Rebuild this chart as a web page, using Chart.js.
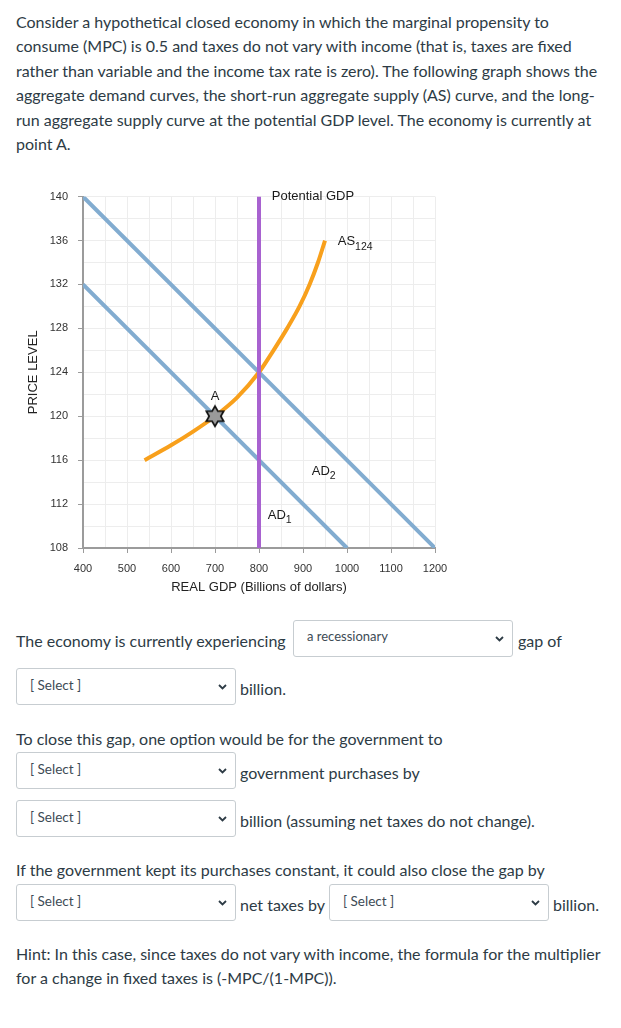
<!DOCTYPE html>
<html>
<head>
<meta charset="utf-8">
<script src="https://cdn.jsdelivr.net/npm/chart.js@4.4.1/dist/chart.umd.min.js"></script>
<style>
  body { margin: 0; width: 621px; height: 1028px; background: #fff; font-family: Lato, "Open Sans", sans-serif; color: #2d3b45; position: relative; overflow: hidden; }
  .t { position: absolute; font-size: 16px; line-height: 20px; white-space: nowrap; }
  .para { position: absolute; left: 16px; top: 10px; font-size: 16px; line-height: 24.4px; white-space: nowrap; }
  .sel { position: absolute; box-sizing: border-box; border: 1px solid #c7cdd1; border-radius: 3px; background: #fff; font-size: 13.5px; color: #3d4b55; }
  .sel span { position: absolute; left: 13px; top: 8px; }
  .sel svg { position: absolute; right: 8px; top: 50%; margin-top: -3px; }
  #wrap { position: absolute; left: 0; top: 180px; width: 470px; height: 420px; }
</style>
</head>
<body>
<div class="para">
Consider a hypothetical closed economy in which the marginal propensity to<br>
consume (MPC) is 0.5 and taxes do not vary with income (that is, taxes are fixed<br>
rather than variable and the income tax rate is zero). The following graph shows the<br>
aggregate demand curves, the short-run aggregate supply (AS) curve, and the long-<br>
run aggregate supply curve at the potential GDP level. The economy is currently at<br>
point A.
</div>

<div id="wrap"><canvas id="adas" width="470" height="420"></canvas></div>

<div class="t" style="left:16px;top:631px">The economy is currently experiencing</div>
<div class="sel" style="left:293px;top:620px;width:220px;height:37px;font-size:13px"><span style="top:7px">a recessionary</span><svg width="9" height="6"><polyline points="1,1 4.5,4.5 8,1" fill="none" stroke="#2d3b45" stroke-width="1.8"/></svg></div>
<div class="t" style="left:518px;top:631px">gap of</div>

<div class="sel" style="left:16px;top:668px;width:220px;height:37px"><span>[ Select ]</span><svg width="9" height="6"><polyline points="1,1 4.5,4.5 8,1" fill="none" stroke="#2d3b45" stroke-width="1.8"/></svg></div>
<div class="t" style="left:240px;top:679px">billion.</div>

<div class="t" style="left:16px;top:729px">To close this gap, one option would be for the government to</div>
<div class="sel" style="left:16px;top:752px;width:220px;height:37px"><span>[ Select ]</span><svg width="9" height="6"><polyline points="1,1 4.5,4.5 8,1" fill="none" stroke="#2d3b45" stroke-width="1.8"/></svg></div>
<div class="t" style="left:240px;top:763px">government purchases by</div>

<div class="sel" style="left:16px;top:800px;width:220px;height:37px"><span>[ Select ]</span><svg width="9" height="6"><polyline points="1,1 4.5,4.5 8,1" fill="none" stroke="#2d3b45" stroke-width="1.8"/></svg></div>
<div class="t" style="left:240px;top:811px">billion (assuming net taxes do not change).</div>

<div class="t" style="left:16px;top:860px">If the government kept its purchases constant, it could also close the gap by</div>
<div class="sel" style="left:16px;top:884px;width:220px;height:37px"><span>[ Select ]</span><svg width="9" height="6"><polyline points="1,1 4.5,4.5 8,1" fill="none" stroke="#2d3b45" stroke-width="1.8"/></svg></div>
<div class="t" style="left:240px;top:895px">net taxes by</div>
<div class="sel" style="left:329px;top:884px;width:220px;height:37px"><span>[ Select ]</span><svg width="9" height="6"><polyline points="1,1 4.5,4.5 8,1" fill="none" stroke="#2d3b45" stroke-width="1.8"/></svg></div>
<div class="t" style="left:553px;top:895px">billion.</div>

<div class="para" style="top:942px">
Hint: In this case, since taxes do not vary with income, the formula for the multiplier<br>
for a change in fixed taxes is (-MPC/(1-MPC)).
</div>

<script>
// axis ranges
const gdpMin = 400, gdpMax = 1200;
const priceMin = 108, priceMax = 140;

// aggregate demand curves
const ad1Gdp = [400, 1000];
const ad1Price = [132, 108];
const ad2Gdp = [400, 1200];
const ad2Price = [140, 108];

// long-run AS (potential GDP)
const lrasGdp = [800, 800];
const lrasPrice = [108, 140];

// short-run AS curve
const asGdp = [540, 600, 650, 700, 750, 800, 833, 864, 892, 915, 934, 950];
const asPrice = [116, 117.35, 118.6, 120, 121.7, 124, 126, 128, 130, 132, 134, 136];

// point A
const pointAGdp = [700];
const pointAPrice = [120];

const BLUE = 'rgb(130,172,208)';
const ORANGE = 'rgb(248,160,28)';
const PURPLE = 'rgb(168,98,208)';
const CHART_FONT = '"Liberation Sans", Arial, sans-serif';

function pts(xs, ys) {
  return xs.map((x, i) => ({ x, y: ys[i] }));
}

// six pointed star used as the marker for A
function makeStar(r) {
  const s = r * 2 + 4;
  const c = document.createElement('canvas');
  c.width = s; c.height = s;
  const g = c.getContext('2d');
  g.beginPath();
  for (let i = 0; i < 12; i++) {
    const ang = -Math.PI / 2 + i * Math.PI / 6;
    const rr = i % 2 === 0 ? r : r * 0.58;
    g.lineTo(s / 2 + rr * Math.cos(ang), s / 2 + rr * Math.sin(ang));
  }
  g.closePath();
  g.fillStyle = '#9a9a9a';
  g.fill();
  g.lineWidth = 1.7;
  g.strokeStyle = '#111';
  g.stroke();
  return c;
}

// text labels placed in data coordinates
const curveLabels = {
  id: 'curveLabels',
  afterDatasetsDraw(chart) {
    const { ctx, scales: { x, y } } = chart;
    ctx.save();
    ctx.fillStyle = '#1a1a1a';
    ctx.textBaseline = 'middle';
    function label(main, sub, gx, gy, align) {
      const px = x.getPixelForValue(gx), py = y.getPixelForValue(gy);
      ctx.font = '13px ' + CHART_FONT;
      ctx.textAlign = align || 'left';
      ctx.fillText(main, px, py);
      if (sub) {
        const w = ctx.measureText(main).width;
        ctx.font = '10.5px ' + CHART_FONT;
        ctx.textAlign = 'left';
        ctx.fillText(sub, px + w, py + 5);
      }
    }
    label('Potential GDP', '', 829, 140);
    label('AS', '124', 979, 135.9);
    label('AD', '2', 920, 115);
    label('AD', '1', 820, 111);
    label('A', '', 700, 121.8, 'center');
    ctx.restore();
  }
};

const lineDs = (data, color) => ({
  data, borderColor: color, borderWidth: 4, pointRadius: 0, fill: false, borderCapStyle: 'butt'
});

const ctx = document.getElementById('adas').getContext('2d');
new Chart(ctx, {
  type: 'line',
  data: {
    datasets: [
      { data: pts(pointAGdp, pointAPrice), pointStyle: makeStar(10), pointRadius: 10, showLine: false },
      lineDs(pts(lrasGdp, lrasPrice), PURPLE),
      Object.assign(lineDs(pts(asGdp, asPrice), ORANGE), { cubicInterpolationMode: 'monotone' }),
      lineDs(pts(ad2Gdp, ad2Price), BLUE),
      lineDs(pts(ad1Gdp, ad1Price), BLUE)
    ]
  },
  options: {
    responsive: false,
    animation: false,
    layout: { padding: { top: 16, right: 35, left: 0, bottom: 0 } },
    plugins: { legend: { display: false }, tooltip: { enabled: false } },
    scales: {
      x: {
        type: 'linear',
        min: gdpMin, max: gdpMax,
        afterFit: s => { s.height = 52; },
        border: { color: '#9b9b9b', width: 2 },
        grid: {
          color: '#ededed',
          tickLength: 5,
          tickColor: c => (c.tick && c.tick.value % 100 === 0) ? '#9b9b9b' : 'rgba(0,0,0,0)'
        },
        ticks: {
          stepSize: 50, autoSkip: false, maxRotation: 0, padding: 9,
          color: '#333', font: { family: CHART_FONT, size: 11 },
          callback: v => v % 100 === 0 ? v : ''
        },
        title: {
          display: true, text: 'REAL GDP (Billions of dollars)', color: '#222',
          font: { family: CHART_FONT, size: 13 }, padding: { top: 0, bottom: 5 }
        }
      },
      y: {
        type: 'linear',
        min: priceMin, max: priceMax,
        afterFit: s => { s.width = 83; },
        border: { color: '#9b9b9b', width: 2 },
        grid: {
          color: '#ededed',
          tickLength: 5,
          tickColor: c => (c.tick && c.tick.value % 4 === 0) ? '#9b9b9b' : 'rgba(0,0,0,0)'
        },
        ticks: {
          stepSize: 2, autoSkip: false, padding: 10,
          color: '#333', font: { family: CHART_FONT, size: 11 },
          callback: v => v % 4 === 0 ? v : ''
        },
        title: {
          display: true, text: 'PRICE LEVEL', color: '#222',
          font: { family: CHART_FONT, size: 13 }, padding: { top: 26, bottom: 0 }
        }
      }
    }
  },
  plugins: [curveLabels]
});
</script>
</body>
</html>
